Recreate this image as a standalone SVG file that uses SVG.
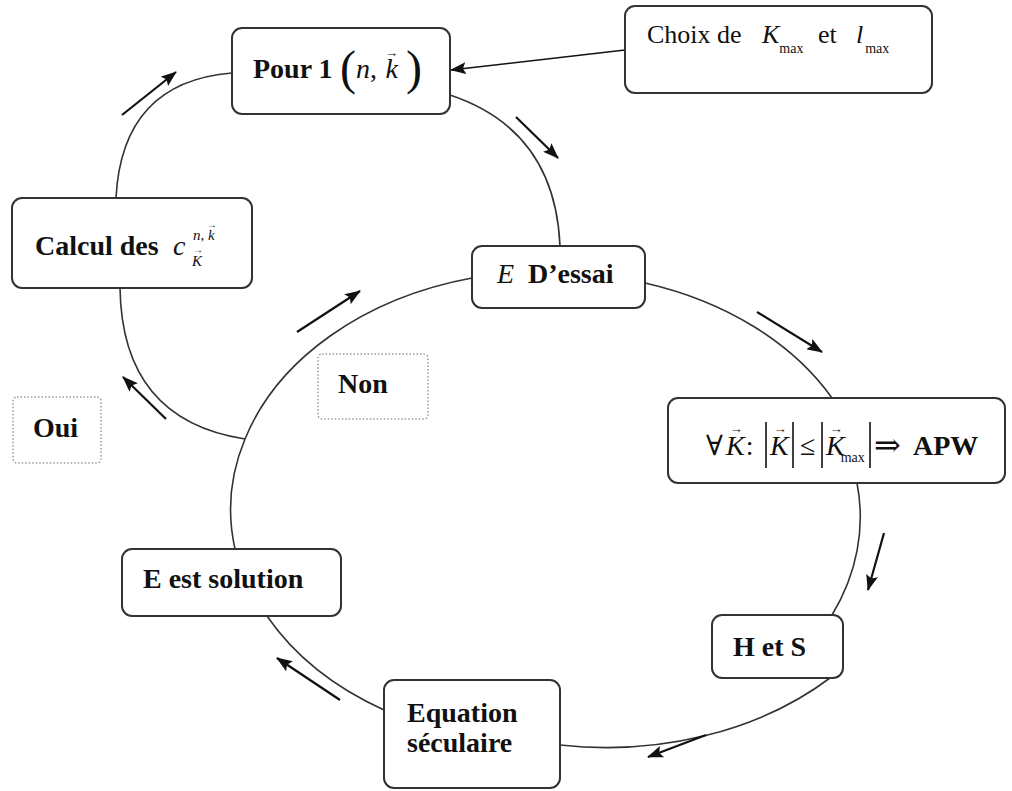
<svg xmlns="http://www.w3.org/2000/svg" width="1012" height="791" viewBox="0 0 1012 791">
<defs>
<marker id="ah" markerUnits="userSpaceOnUse" markerWidth="16" markerHeight="12" refX="15" refY="6" orient="auto">
<path d="M0,0 L16,6 L0,12 L3,6 z" fill="#111"/>
</marker>
<style>
.box{fill:#fff;stroke:#333;stroke-width:2}
.dot{fill:#fff;stroke:#999;stroke-width:1.5;stroke-dasharray:1.5 2}
.con{fill:none;stroke:#333;stroke-width:1.6}
.arr{fill:none;stroke:#111;stroke-width:2.2;marker-end:url(#ah)}
.bar{stroke:#111;stroke-width:1.6}
text{font-family:"Liberation Serif","DejaVu Serif","Times New Roman",serif;fill:#111}
.b{font-weight:bold;font-size:28px}
.r{font-size:26px}
.i{font-style:italic}
.m{font-size:28px}
</style>
</defs>
<rect width="1012" height="791" fill="#fff"/>
<g id="connectors">
<path class="con" d="M450,95 Q555,130 560,246"/>
<path class="con" d="M232,73 Q122,82 116,198"/>
<path class="con" d="M120,288 Q122,420 245,439"/>
<path class="con" d="M645,283 A316,237 0 0 1 832,398"/>
<path class="con" d="M857,483 A316,237 0 0 1 832,615"/>
<path class="con" d="M830,678 A316,237 0 0 1 560,745"/>
<path class="con" d="M384,710 A316,237 0 0 1 267,616"/>
<path class="con" d="M235,549 A316,237 0 0 1 245,439"/>
<path class="con" d="M245,439 A316,237 0 0 1 472,278"/>
<line x1="625" y1="50" x2="451" y2="70" stroke="#111" stroke-width="1.6" marker-end="url(#ah)"/>
<line class="arr" x1="122" y1="115" x2="176" y2="72"/>
<line class="arr" x1="516" y1="117" x2="558" y2="158"/>
<line class="arr" x1="297" y1="332" x2="360" y2="291"/>
<line class="arr" x1="757" y1="312" x2="822" y2="352"/>
<line class="arr" x1="884" y1="533" x2="868" y2="590"/>
<line class="arr" x1="706" y1="735" x2="648" y2="757"/>
<line class="arr" x1="340" y1="700" x2="277" y2="658"/>
<line class="arr" x1="166" y1="419" x2="123" y2="377"/>
</g>
<g id="pour">
<rect class="box" x="232" y="28" width="218" height="86" rx="10"/>
<text class="b" x="253" y="78">Pour 1</text>
<text x="340" y="84" font-size="48">(</text>
<text class="m" x="356" y="78"><tspan class="i">n</tspan>,</text>
<text class="m" x="385" y="78"><tspan class="i">k</tspan><tspan dx="-13" dy="-21" font-size="13">→</tspan></text>
<text x="406" y="84" font-size="48">)</text>
</g>
<g id="choix">
<rect class="box" x="625" y="6" width="307" height="87" rx="10"/>
<text class="r" x="647" y="43">Choix de</text>
<text class="r" x="762" y="43"><tspan class="i">K</tspan><tspan dy="10" font-size="14">max</tspan></text>
<text class="r" x="818" y="43">et</text>
<text class="r" x="856" y="43"><tspan class="i">l</tspan><tspan dx="2" dy="10" font-size="14">max</tspan></text>
</g>
<g id="calcul">
<rect class="box" x="12" y="198" width="240" height="90" rx="10"/>
<text class="b" x="35" y="255" font-size="27px">Calcul des</text>
<text class="i m" x="173" y="255">c</text>
<text x="193" y="240" font-size="15"><tspan class="i">n</tspan>, <tspan class="i">k</tspan><tspan dx="-8" dy="-12" font-size="10">→</tspan></text>
<text x="192" y="266" font-size="15"><tspan class="i">K</tspan><tspan dx="-9" dy="-13" font-size="10">→</tspan></text>
</g>
<g id="essai">
<rect class="box" x="472" y="246" width="173" height="62" rx="10"/>
<text class="i m" x="497" y="283">E</text>
<text class="b" x="528" y="283">D’essai</text>
</g>
<g id="apw">
<rect class="box" x="668" y="398" width="337" height="85" rx="10"/>
<text class="m" x="706" y="455">∀</text>
<text class="m" x="726" y="455"><tspan class="i">K</tspan><tspan dx="-15" dy="-22" font-size="13">→</tspan><tspan dx="3" dy="22">:</tspan></text>
<line class="bar" x1="766" y1="422" x2="766" y2="468"/>
<text class="m" x="770" y="455"><tspan class="i">K</tspan><tspan dx="-15" dy="-22" font-size="13">→</tspan></text>
<line class="bar" x1="793" y1="422" x2="793" y2="468"/>
<text class="m" x="800" y="455">≤</text>
<line class="bar" x1="822" y1="422" x2="822" y2="468"/>
<text class="m" x="826" y="455"><tspan class="i">K</tspan><tspan dx="-15" dy="-22" font-size="13">→</tspan><tspan dx="-2" dy="29" font-size="14">max</tspan></text>
<line class="bar" x1="870" y1="422" x2="870" y2="468"/>
<text x="874" y="456" font-size="32">⇒</text>
<text class="b" x="913" y="455">APW</text>
</g>
<g id="hets">
<rect class="box" x="712" y="615" width="131" height="63" rx="10"/>
<text class="b" x="733" y="656">H et S</text>
</g>
<g id="equation">
<rect class="box" x="384" y="680" width="176" height="108" rx="10"/>
<text class="b" x="407" y="722">Equation</text>
<text class="b" x="407" y="752">séculaire</text>
</g>
<g id="solution">
<rect class="box" x="122" y="549" width="219" height="67" rx="10"/>
<text class="b" x="143" y="588">E est solution</text>
</g>
<g id="non">
<rect class="dot" x="318" y="354" width="110" height="65" rx="4"/>
<text class="b" x="338" y="393">Non</text>
</g>
<g id="oui">
<rect class="dot" x="13" y="397" width="88" height="66" rx="4"/>
<text class="b" x="33" y="437">Oui</text>
</g>
</svg>
